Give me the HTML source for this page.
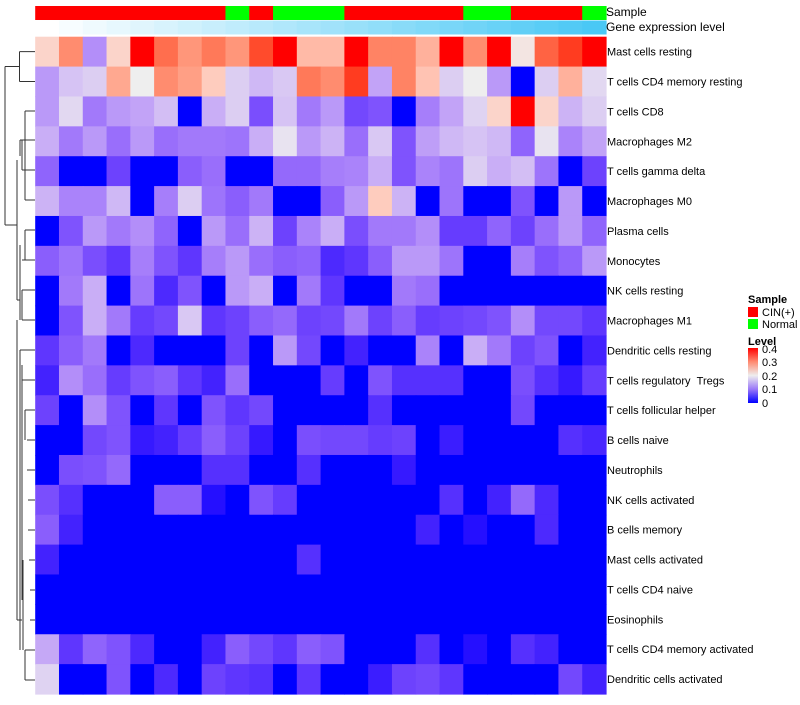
<!DOCTYPE html>
<html><head><meta charset="utf-8"><style>
body{margin:0;background:#fff;font-family:"Liberation Sans",sans-serif;}
svg text{font-family:"Liberation Sans",sans-serif;}
</style></head><body>
<svg id="chart" width="800" height="700" xmlns="http://www.w3.org/2000/svg">
<g id="dendro" stroke="#333" stroke-width="1" fill="none">
<path d="M19.5,51.6 H35 M19.5,81.5 H35 M19.5,51.6 V81.5"/>
<path d="M5,66.5 H19.5 M5,66.5 V225 M5,225 H17"/>
<path d="M25,111 H35 M25,111 V200 M20,140 H35 M20,140 V156 M22,170 H35 M22,140 V170 M25,200 H35 M17,160 V300 M25,230 H35 M25,230 V260 M22,260 H35 M20,245 V320 M22,290 H35 M22,320 H35 M22,290 V320 M17,300 H20"/>
<path d="M20,350 H35 M20,350 V380 M22,380 H35 M25,410 H35 M25,410 V440 M27,440 H35 M27,470 H35 M28,500 H35 M28,530 H35 M29,560 H35 M30,590 H35 M30,620 H35 M20,380 V650 M25,650 V680 M25,650 H35 M25,680 H35 M23,560 V650 M22,365 V600 M17,320 V620 M17,620 H22"/>
</g>
<g id="cells"></g>
<g id="anno"></g>
<g id="labels" font-size="11" fill="#000"></g>
<text x="606" y="16" font-size="12">Sample</text>
<text x="606" y="31" font-size="12">Gene expression level</text>
<g font-size="11">
<text x="748" y="303" font-weight="bold">Sample</text>
<rect x="748" y="307" width="10" height="10" fill="#ff0000"/>
<text x="762" y="316">CIN(+)</text>
<rect x="748" y="319" width="10" height="10" fill="#00ff00"/>
<text x="762" y="328">Normal</text>
<text x="748" y="345" font-weight="bold">Level</text>
<defs><linearGradient id="lg" x1="0" y1="0" x2="0" y2="1">
<stop offset="0" stop-color="#ff0000"/><stop offset="0.25" stop-color="#ff8a70"/><stop offset="0.5" stop-color="#eeeeee"/><stop offset="0.75" stop-color="#9a78f8"/><stop offset="1" stop-color="#0000ff"/></linearGradient></defs>
<rect x="748" y="348" width="10" height="55" fill="url(#lg)"/>
<text x="762" y="353">0.4</text>
<text x="762" y="366">0.3</text>
<text x="762" y="380">0.2</text>
<text x="762" y="393">0.1</text>
<text x="762" y="407">0</text>
</g>
</svg>
<script>
const rowLabels=["Mast cells resting","T cells CD4 memory resting","T cells CD8","Macrophages M2","T cells gamma delta","Macrophages M0","Plasma cells","Monocytes","NK cells resting","Macrophages M1","Dendritic cells resting","T cells regulatory \u00a0Tregs","T cells follicular helper","B cells naive","Neutrophils","NK cells activated","B cells memory","Mast cells activated","T cells CD4 naive","Eosinophils","T cells CD4 memory activated","Dendritic cells activated"];
const sampleGroups=["CIN","CIN","CIN","CIN","CIN","CIN","CIN","CIN","Normal","CIN","Normal","Normal","Normal","CIN","CIN","CIN","CIN","CIN","Normal","Normal","CIN","CIN","CIN","Normal"];
const r0=[0.23,0.31,0.11,0.23,0.4,0.34,0.30,0.33,0.30,0.37,0.4,0.26,0.26,0.4,0.32,0.32,0.27,0.4,0.31,0.4,0.21,0.35,0.38,0.4];
const r1=[0.12,0.16,0.17,0.28,0.2,0.31,0.29,0.24,0.17,0.15,0.165,0.33,0.31,0.38,0.13,0.32,0.25,0.17,0.2,0.12,0,0.17,0.27,0.18];
const r2=[0.12,0.18,0.09,0.12,0.13,0.155,0,0.14,0.17,0.05,0.16,0.09,0.12,0.045,0.055,0,0.095,0.13,0.175,0.23,0.4,0.23,0.145,0.17];
const r3=[0.14,0.09,0.12,0.08,0.12,0.08,0.09,0.09,0.085,0.14,0.19,0.12,0.145,0.08,0.165,0.055,0.125,0.15,0.16,0.15,0.07,0.19,0.1,0.13];
const r4=[0.07,0,0,0.04,0,0,0.065,0.08,0,0,0.075,0.075,0.095,0.1,0.14,0.055,0.1,0.085,0.17,0.14,0.155,0.085,0,0.04];
const r5=[0.145,0.1,0.1,0.15,0,0.095,0.17,0.085,0.065,0.09,0,0,0.065,0.12,0.24,0.145,0,0.085,0,0,0.055,0,0.12,0];
const r6=[0,0.055,0.12,0.09,0.11,0.07,0,0.12,0.08,0.145,0.04,0.1,0.14,0.05,0.09,0.09,0.11,0.035,0.035,0.07,0.04,0.08,0.12,0.07];
const r7=[0.065,0.085,0.05,0.03,0.095,0.055,0.03,0.095,0.12,0.08,0.065,0.07,0.02,0.03,0.065,0.12,0.12,0.085,0,0,0.095,0.055,0.07,0.12];
const r8=[0,0.09,0.14,0,0.085,0.02,0.055,0,0.12,0.14,0,0.09,0.03,0,0,0.09,0.08,0,0,0,0,0,0,0];
const r9=[0,0.055,0.14,0.09,0.035,0.045,0.165,0.03,0.04,0.065,0.075,0.04,0.045,0.09,0.04,0.065,0.035,0.04,0.045,0.055,0.11,0.045,0.045,0.03];
const r10=[0.03,0.065,0.09,0,0.02,0,0,0,0.04,0,0.12,0.045,0,0.015,0,0,0.1,0,0.14,0.09,0.04,0.055,0,0.015];
const r11=[0.015,0.11,0.08,0.035,0.055,0.065,0.03,0.015,0.08,0,0,0,0.035,0,0.055,0.025,0.025,0.025,0,0,0.05,0.025,0.01,0.035];
const r12=[0.04,0,0.11,0.055,0,0.03,0,0.055,0.03,0.045,0,0,0,0,0.025,0,0,0,0,0,0.045,0,0,0];
const r13=[0,0,0.045,0.055,0.01,0.015,0.035,0.065,0.04,0.01,0,0.05,0.045,0.045,0.035,0.04,0,0.012,0,0,0,0,0.025,0.018];
const r14=[0,0.05,0.055,0.075,0,0,0,0.025,0.025,0,0,0.025,0,0,0,0.01,0,0,0,0,0,0,0,0];
const r15=[0.05,0.025,0,0,0,0.065,0.065,0.005,0,0.055,0.035,0,0,0,0,0,0,0.025,0,0.015,0.075,0.02,0,0];
const r16=[0.065,0.015,0,0,0,0,0,0,0,0,0,0,0,0,0,0,0.015,0,0.005,0,0,0.02,0,0];
const r17=[0.015,0,0,0,0,0,0,0,0,0,0,0.025,0,0,0,0,0,0,0,0,0,0,0,0];
const r18=[0,0,0,0,0,0,0,0,0,0,0,0,0,0,0,0,0,0,0,0,0,0,0,0];
const r19=[0,0,0,0,0,0,0,0,0,0,0,0,0,0,0,0,0,0,0,0,0,0,0,0];
const r20=[0.135,0.03,0.07,0.055,0.02,0,0,0.015,0.065,0.045,0.03,0.065,0.055,0,0,0,0.025,0,0.005,0,0.025,0.015,0,0];
const r21=[0.175,0,0,0.055,0,0.02,0,0.04,0.03,0.025,0,0.03,0,0,0.012,0.04,0.045,0.03,0,0,0,0,0.045,0.015];
const values=[r0,r1,r2,r3,r4,r5,r6,r7,r8,r9,r10,r11,r12,r13,r14,r15,r16,r17,r18,r19,r20,r21];
const NS="http://www.w3.org/2000/svg";
const X0=35.2,X1=606,Y0=36.7,Y1=694;
const nC=24,nR=rowLabels.length;
const cw=(X1-X0)/nC,rh=(Y1-Y0)/nR;
const xs=i=>X0+i*cw, ys=j=>Y0+j*rh;
function toLab(c){let [r,g,b]=c.map(v=>{v/=255;return v>0.04045?Math.pow((v+0.055)/1.055,2.4):v/12.92;});
let x=(r*0.4124+g*0.3576+b*0.1805)/0.95047,y=r*0.2126+g*0.7152+b*0.0722,z=(r*0.0193+g*0.1192+b*0.9505)/1.08883;
const f=t=>t>0.008856?Math.cbrt(t):7.787*t+16/116;return [116*f(y)-16,500*(f(x)-f(y)),200*(f(y)-f(z))];}
function fromLab(l){let fy=(l[0]+16)/116,fx=fy+l[1]/500,fz=fy-l[2]/200;const fi=t=>t*t*t>0.008856?t*t*t:(t-16/116)/7.787;
let x=fi(fx)*0.95047,y=fi(fy),z=fi(fz)*1.08883;
let r=x*3.2406-y*1.5372-z*0.4986,g=-x*0.9689+y*1.8758+z*0.0415,b=x*0.0557-y*0.2040+z*1.0570;
return [r,g,b].map(v=>{v=v>0.0031308?1.055*Math.pow(v,1/2.4)-0.055:12.92*v;return Math.round(Math.max(0,Math.min(1,v))*255);});}
const B=toLab([0,0,255]),W=toLab([238,238,238]),R=toLab([255,0,0]);
function col(v){v=Math.max(0,Math.min(0.4,v));let a,b,t;if(v<=0.2){a=B;b=W;t=v/0.2;}else{a=W;b=R;t=(v-0.2)/0.2;}
const c=fromLab(a.map((x,i)=>x+(b[i]-x)*t));return `rgb(${c[0]},${c[1]},${c[2]})`;}
const cells=document.getElementById('cells');
values.forEach((row,j)=>row.forEach((v,i)=>{
const r=document.createElementNS(NS,'rect');
r.setAttribute('x',xs(i));r.setAttribute('y',ys(j));r.setAttribute('width',cw+0.6);r.setAttribute('height',rh+0.6);
r.setAttribute('fill',col(v));


cells.appendChild(r);}));
const anno=document.getElementById('anno');
sampleGroups.forEach((g,i)=>{
const r=document.createElementNS(NS,'rect');
r.setAttribute('x',xs(i));r.setAttribute('y',6);r.setAttribute('width',cw+0.6);r.setAttribute('height',14);
r.setAttribute('fill',g==="CIN"?"#ff0000":"#00ff00");


anno.appendChild(r);
const e=document.createElementNS(NS,'rect');
const t=i/(nC-1);
e.setAttribute('x',xs(i));e.setAttribute('y',20.5);e.setAttribute('width',cw+0.6);e.setAttribute('height',14);
e.setAttribute('fill',`rgb(${Math.round(255-t*(255-74))},${Math.round(255-t*(255-200))},${Math.round(255-t*(255-245))})`);


anno.appendChild(e);});
const labels=document.getElementById('labels');
rowLabels.forEach((l,j)=>{
const t=document.createElementNS(NS,'text');
t.setAttribute('x',607);t.setAttribute('y',ys(j)+rh/2+4);t.textContent=l;


labels.appendChild(t);});
</script>
</body></html>
